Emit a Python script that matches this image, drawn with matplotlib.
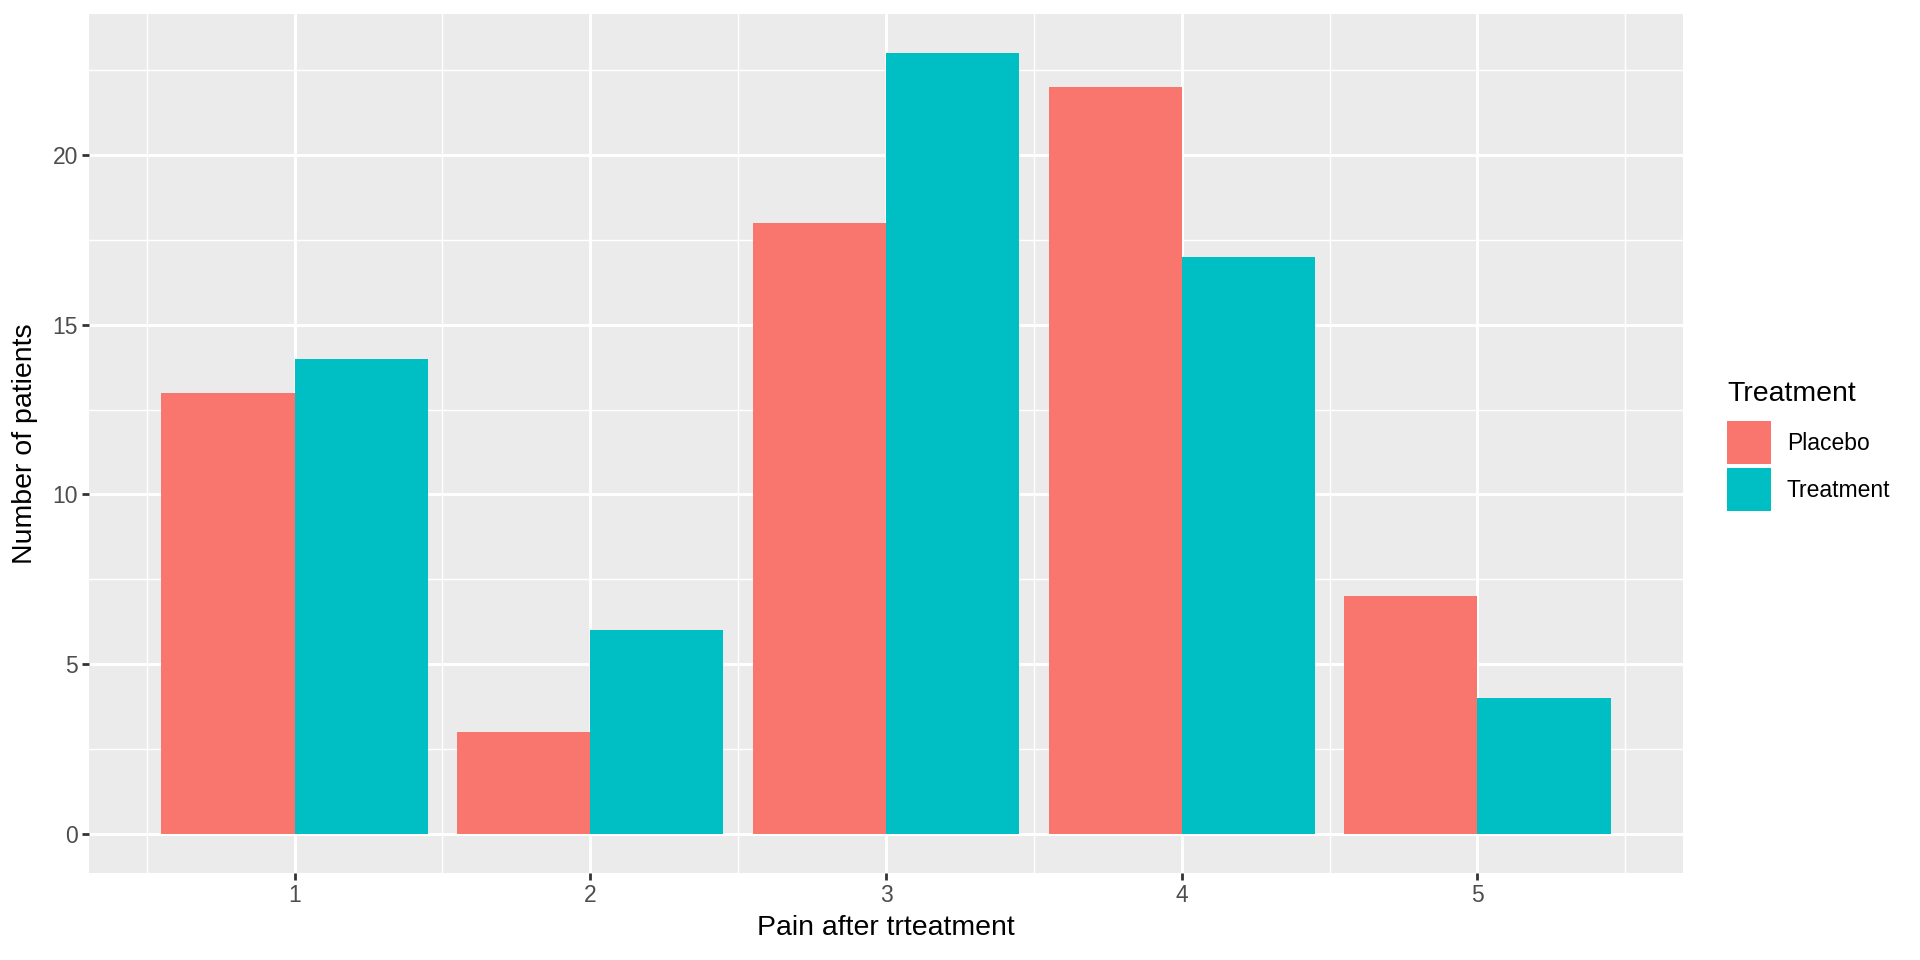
import numpy as np
import matplotlib
matplotlib.use('Agg')
import matplotlib.pyplot as plt
from matplotlib.patches import Patch

plt.rcParams['font.family'] = ['Liberation Sans', 'DejaVu Sans']

# 数据
pain_levels = [1, 2, 3, 4, 5]
placebo_counts = [13, 3, 18, 22, 7]
treatment_counts = [14, 6, 23, 17, 4]
series_names = ['Placebo', 'Treatment']
series_colors = ['#F8766D', '#00BFC4']

fig = plt.figure(figsize=(19.2, 9.6), dpi=100)
# 面板位置 (像素: 左 89, 右 1683, 上 14, 下 873)
ax = fig.add_axes([89 / 1920, 1 - 873 / 960, (1683 - 89) / 1920, (873 - 14) / 960])
ax.set_facecolor('#EBEBEB')

x = np.array(pain_levels, dtype=float)
width = 0.45
ax.bar(x - width / 2, placebo_counts, width, color=series_colors[0], zorder=3)
ax.bar(x + width / 2, treatment_counts, width, color=series_colors[1], zorder=3)

# 坐标范围 (ggplot 连续轴 5% 扩展)
ax.set_xlim(0.305, 5.695)
ax.set_ylim(-1.15, 24.15)

ax.set_xticks(pain_levels)
ax.set_xticks([0.5, 1.5, 2.5, 3.5, 4.5, 5.5], minor=True)
ax.set_yticks([0, 5, 10, 15, 20])
ax.set_yticks([2.5, 7.5, 12.5, 17.5, 22.5], minor=True)

ax.grid(True, which='major', color='white', linewidth=2.1, zorder=1)
ax.grid(True, which='minor', color='white', linewidth=1.05, zorder=1)
ax.tick_params(which='major', length=5, width=2, color='#333333',
               labelsize=16.5, labelcolor='#4D4D4D', pad=3)
ax.tick_params(which='minor', length=0)
for s in ax.spines.values():
    s.set_visible(False)

ax.set_xlabel('Pain after trteatment', fontsize=20.5, labelpad=6)
ax.set_ylabel('Number of patients', fontsize=20.5, labelpad=10)

# 图例 (标题单独放, 方便控制间距)
fig.text(1727 / 1920, 1 - 394 / 960, 'Treatment', ha='left', va='center', fontsize=20.5)
handles = [Patch(facecolor=c, edgecolor='none') for c in series_colors]
leg = fig.legend(handles, series_names,
                 loc='upper left', bbox_to_anchor=(1718 / 1920, 1 - 412 / 960),
                 frameon=False, fontsize=16.5,
                 handlelength=1.9, handleheight=2.5, handletextpad=0.7,
                 labelspacing=0.18, borderaxespad=0)

plt.savefig('out.png', dpi=100)
plt.close()
